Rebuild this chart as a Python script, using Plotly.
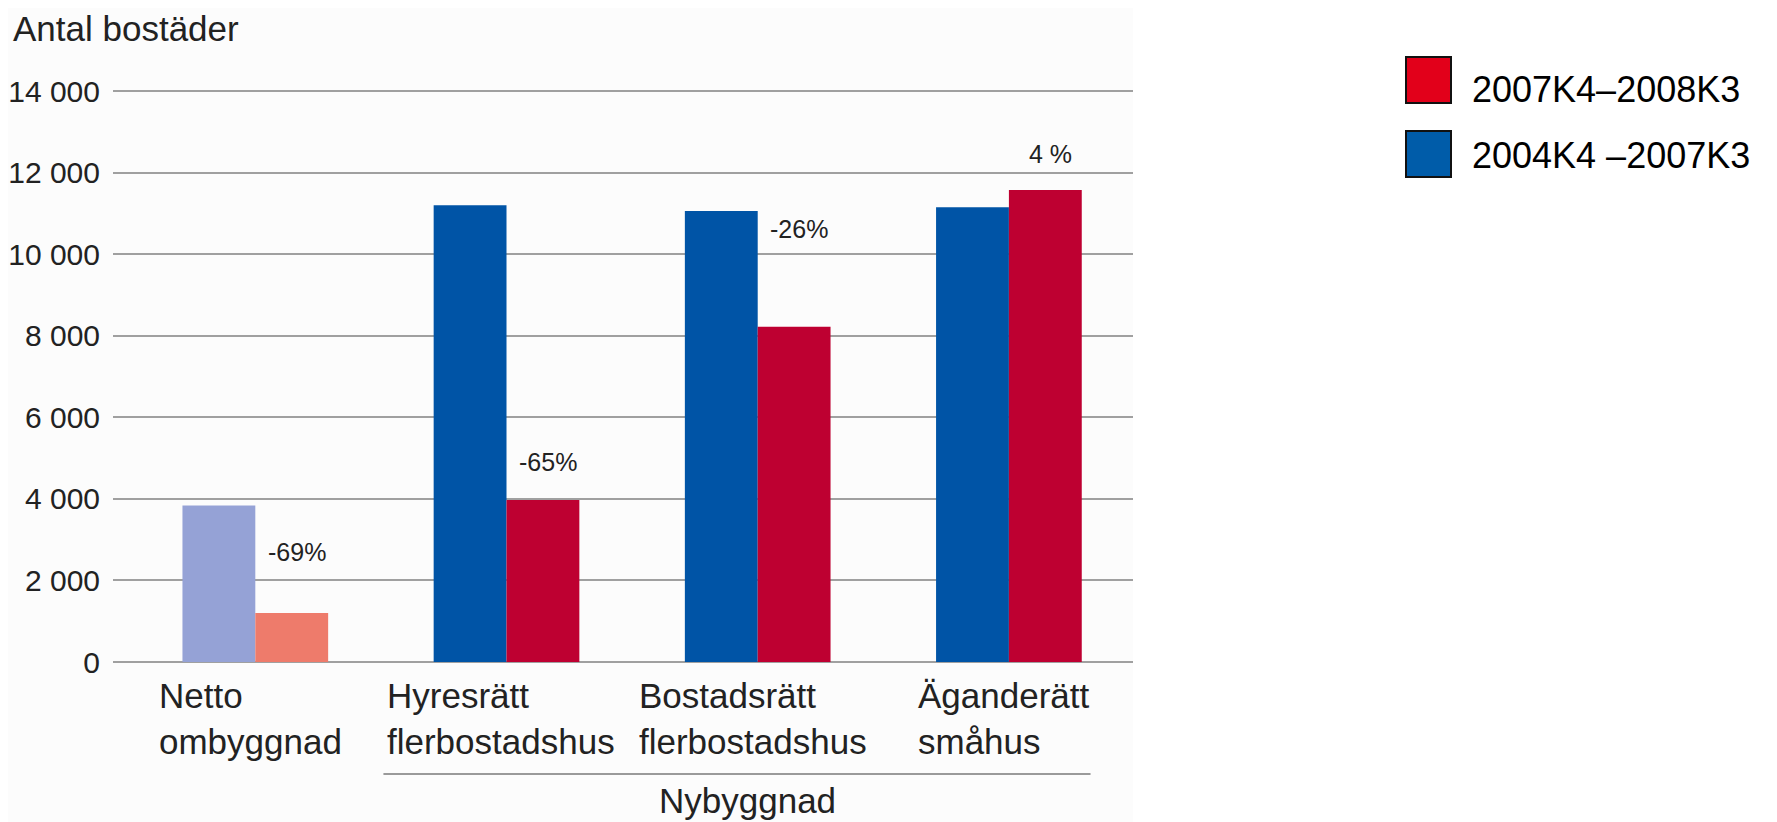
import plotly.graph_objects as go

categories = ["Netto<br>ombyggnad", "Hyresrätt<br>flerbostadshus",
              "Bostadsrätt<br>flerbostadshus", "Äganderätt<br>småhus"]
series_old_name = "2004K4 –2007K3"
series_new_name = "2007K4–2008K3"
values_old = [3840, 11200, 11060, 11150]
values_new = [1200, 3970, 8220, 11570]
change_labels = ["-69%", "-65%", "-26%", "4 %"]
y_ticks = [0, 2000, 4000, 6000, 8000, 10000, 12000, 14000]
y_title = "Antal bostäder"
group_label = "Nybyggnad"

colors_old = ["#95A2D6", "#0054A6", "#0054A6", "#0054A6"]
colors_new = ["#EE7B6B", "#BE0031", "#BE0031", "#BE0031"]

# page has an 8px body margin; work in page pixels and convert
OFF = 8
W, H = 1777 - OFF, 822 - OFF
PLOT_L, PLOT_R = 113, 1133          # page px
PLOT_T, PLOT_B = 91 - 2, 662 + 2    # page px (2px pad so edge grids show)
L = PLOT_L - OFF
T = PLOT_T - OFF
R = W - (PLOT_R - OFF)
B = H - (PLOT_B - OFF)
BARGAP = 0.42
label_y = [2700, 4900, 10620, 12460]

xs = list(range(len(categories)))

fig = go.Figure()
fig.add_trace(go.Bar(x=xs, y=values_old, name=series_old_name,
                     marker=dict(color=colors_old, line=dict(width=0)),
                     showlegend=False))
fig.add_trace(go.Bar(x=xs, y=values_new, name=series_new_name,
                     marker=dict(color=colors_new, line=dict(width=0)),
                     showlegend=False))

TXT = "Liberation Sans, Arial, Helvetica, sans-serif"

pw = W - L - R
ph = H - T - B
def px_x(p):
    return (p - OFF - L) / pw
def px_y(p):
    return (H - B - (p - OFF)) / ph

ann = []
offset = (1 - BARGAP) / 4
for i, (lab, yy) in enumerate(zip(change_labels, label_y)):
    ann.append(dict(x=i + offset + 0.02, y=yy, xref="x", yref="y", text=lab,
                    showarrow=False, font=dict(family=TXT, size=25, color="#222"),
                    xanchor="center", yanchor="middle"))
for i, c in enumerate(categories):
    ann.append(dict(x=i - 0.02, y=px_y(674), xref="x", yref="paper", text=c,
                    showarrow=False, align="left", xanchor="center", yanchor="top",
                    font=dict(family=TXT, size=35, color="#222")))
ann.append(dict(x=1.96, y=px_y(800), xref="x", yref="paper", text=group_label,
                showarrow=False, xanchor="center", yanchor="middle",
                font=dict(family=TXT, size=35, color="#222")))
ann.append(dict(x=px_x(12), y=px_y(29), xref="paper", yref="paper", text=y_title,
                showarrow=False, xanchor="left", yanchor="middle", borderpad=0,
                font=dict(family=TXT, size=35, color="#222")))

legend_items = [(series_new_name, "#E2001A", 57, 103, 90),
                (series_old_name, "#005CA9", 131, 177, 156)]
shapes = [dict(type="rect", xref="paper", yref="paper", x0=px_x(0), x1=1,
               y0=px_y(822), y1=px_y(0), fillcolor="#FCFCFC", line=dict(width=0),
               layer="below")]
for name, col, y0, y1, yc in legend_items:
    shapes.append(dict(type="rect", xref="paper", yref="paper",
                       x0=px_x(1406), x1=px_x(1451), y0=px_y(y1), y1=px_y(y0),
                       fillcolor=col, line=dict(color="#111", width=2)))
    ann.append(dict(x=px_x(1470), y=px_y(yc), xref="paper", yref="paper", text=name,
                    showarrow=False, xanchor="left", yanchor="middle",
                    font=dict(family=TXT, size=36, color="#000")))
shapes.append(dict(type="line", xref="x", yref="paper", x0=1 - 0.49, x1=3 + 0.325,
                   y0=px_y(774), y1=px_y(774), line=dict(color="#9a9a9a", width=2)))

units_per_px = 14000 / (662 - 91)
fig.update_layout(
    width=W, height=H,
    margin=dict(l=L, r=R, t=T, b=B, pad=0, autoexpand=False),
    barmode="group", bargap=BARGAP, bargroupgap=0,
    paper_bgcolor="white", plot_bgcolor="#FCFCFC",
    separators=", ",
    annotations=ann, shapes=shapes,
    xaxis=dict(range=[-0.5665, 3.494], showticklabels=False, showgrid=False,
               zeroline=False, ticks="", showline=False, fixedrange=True,
               automargin=False),
    yaxis=dict(range=[-2 * units_per_px, 14000 + 2 * units_per_px],
               tickvals=y_ticks, tickformat=",d",
               showgrid=True, gridcolor="#a0a0a0", gridwidth=2,
               zeroline=False, ticks="", showline=False, automargin=False,
               ticklabelstandoff=12,
               tickfont=dict(family=TXT, size=30, color="#222")),
)

fig.write_html("out.html")
